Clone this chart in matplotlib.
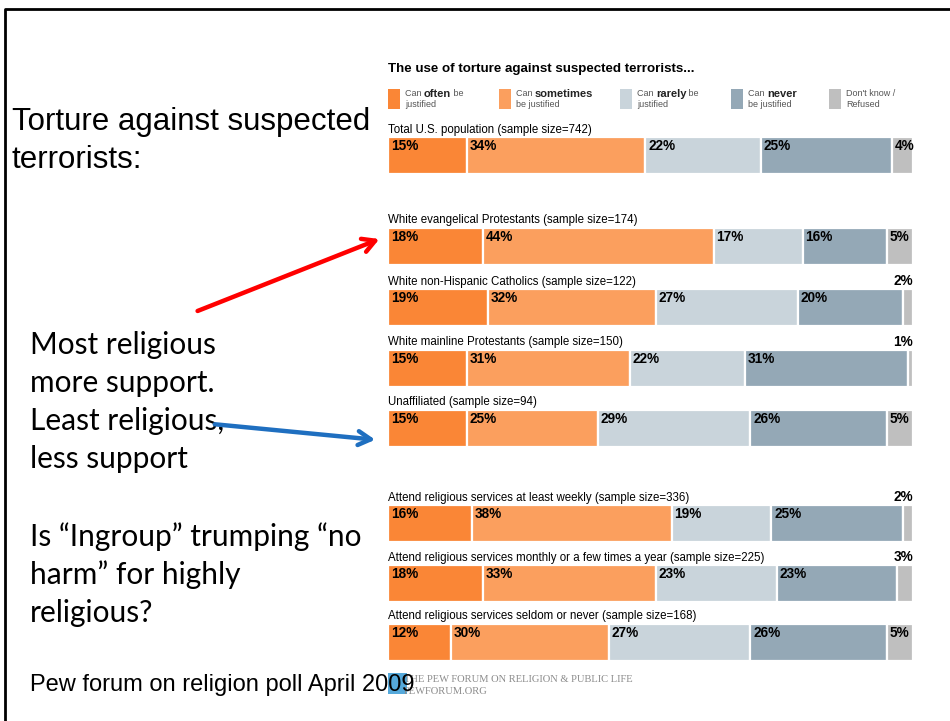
import matplotlib
matplotlib.use('Agg')
import matplotlib.pyplot as plt
from matplotlib.patches import Rectangle

# survey data (percent)
groups = ['Total U.S. population (sample size=742)',
          'White evangelical Protestants (sample size=174)',
          'White non-Hispanic Catholics (sample size=122)',
          'White mainline Protestants (sample size=150)',
          'Unaffiliated (sample size=94)',
          'Attend religious services at least weekly (sample size=336)',
          'Attend religious services monthly or a few times a year (sample size=225)',
          'Attend religious services seldom or never (sample size=168)']
often = [15, 18, 19, 15, 15, 16, 18, 12]
sometimes = [34, 44, 32, 31, 25, 38, 33, 30]
rarely = [22, 17, 27, 22, 29, 19, 23, 27]
never = [25, 16, 20, 31, 26, 25, 23, 26]
dont_know = [4, 5, 2, 1, 5, 2, 3, 5]

legend_parts = [('Can ', 'often', ' be', 'justified'),
                ('Can ', 'sometimes', '', 'be justified'),
                ('Can ', 'rarely', ' be', 'justified'),
                ('Can ', 'never', '', 'be justified'),
                ("Don't know /", '', '', 'Refused')]
colors = ['#FA8636', '#FB9F5E', '#C9D4DB', '#94A8B6', '#BFBFBF']

# layout (pixels from the top of the slide)
row_tops = [137, 228, 289, 350, 410, 505, 565, 624]
bar_h = 37
legend_x = [388, 499, 620, 731, 829]

W, H = 950, 721
fig = plt.figure(figsize=(W / 100, H / 100), dpi=100)
fig.patch.set_facecolor('white')

bg = fig.add_axes([0, 0, 1, 1])
bg.set_xlim(0, W)
bg.set_ylim(H, 0)
bg.axis('off')

ax = fig.add_axes([388 / W, 0, 525 / W, 1])
ax.set_xlim(0, 100)
ax.set_ylim(H, 0)
ax.axis('off')

arial = 'Liberation Sans'
series = [often, sometimes, rarely, never, dont_know]
for i, label in enumerate(groups):
    top = row_tops[i]
    yc = top + bar_h / 2
    ax.text(0, top - 1.5, label, fontsize=8.3, family=arial, va='bottom', ha='left')
    left = 0
    for s, col in zip(series, colors):
        v = s[i]
        ax.barh(yc, v, left=left, height=bar_h, color=col, edgecolor='white', linewidth=1.6)
        if v >= 4:
            ax.annotate(f'{v}%', (left, top + 9), xytext=(2, 0), textcoords='offset points',
                        fontsize=9.8, fontweight='bold', family=arial, va='center', ha='left')
        else:
            ax.text(100, top - 1, f'{v}%', fontsize=9.8, fontweight='bold', family=arial,
                    va='bottom', ha='right')
        left += v

# chart title and legend
bg.text(388, 69, 'The use of torture against suspected terrorists...', fontsize=9.6,
        fontweight='bold', family=arial, va='center', ha='left')
renderer = fig.canvas.get_renderer()
for x0, col, parts in zip(legend_x, colors, legend_parts):
    bg.add_patch(Rectangle((x0, 89), 12, 20, color=col, lw=0))
    x = x0 + 17
    for txt, fw, fs in zip(parts[:3], ['normal', 'bold', 'normal'], [6.5, 8, 6.5]):
        if not txt:
            continue
        t = bg.text(x, 94, txt, fontsize=fs, fontweight=fw, family=arial,
                    color='#555555' if fw == 'normal' else '#222222', va='center', ha='left')
        bb = t.get_window_extent(renderer)
        x += bb.width
    bg.text(x0 + 17, 104.5, parts[3], fontsize=6.5, family=arial, color='#555555',
            va='center', ha='left')

# slide text
bg.text(12, 122, 'Torture against suspected', fontsize=22.5, family=arial, va='center')
bg.text(12, 160, 'terrorists:', fontsize=22.5, family=arial, va='center')
for y, line in zip([345, 383, 421, 459, 537, 575, 613],
                   ['Most religious', 'more support.', 'Least religious,', 'less support',
                    'Is \u201cIngroup\u201d trumping \u201cno', 'harm\u201d for highly', 'religious?']):
    bg.text(30, y, line, fontsize=21.5, family='Lato', va='center')

# Pew logo
bg.add_patch(Rectangle((388, 673), 19, 21, color='#55A9DB', lw=0))
bg.text(404, 680, 'THE PEW FORUM ON RELIGION & PUBLIC LIFE', fontsize=7.6,
        family='Liberation Serif', color='#8C8C8C', va='center')
bg.text(404, 691.5, 'PEWFORUM.ORG', fontsize=7.6, family='Liberation Serif',
        color='#8C8C8C', va='center')
bg.text(30, 685, 'Pew forum on religion poll April 2009', fontsize=17, family=arial,
        va='center', zorder=5)

# arrows
bg.annotate('', xy=(382, 238), xytext=(195, 312),
            arrowprops=dict(arrowstyle='->,head_length=0.9,head_width=0.5', lw=3.2, color='#FF0000'))
bg.annotate('', xy=(378, 440), xytext=(212, 424),
            arrowprops=dict(arrowstyle='->,head_length=0.9,head_width=0.5', lw=3.2, color='#1F6FC0'))

# slide border
bg.plot([4.5, 4.5, W], [H, 8.5, 8.5], color='black', lw=2, solid_capstyle='butt')

fig.savefig('out.png', dpi=100)
